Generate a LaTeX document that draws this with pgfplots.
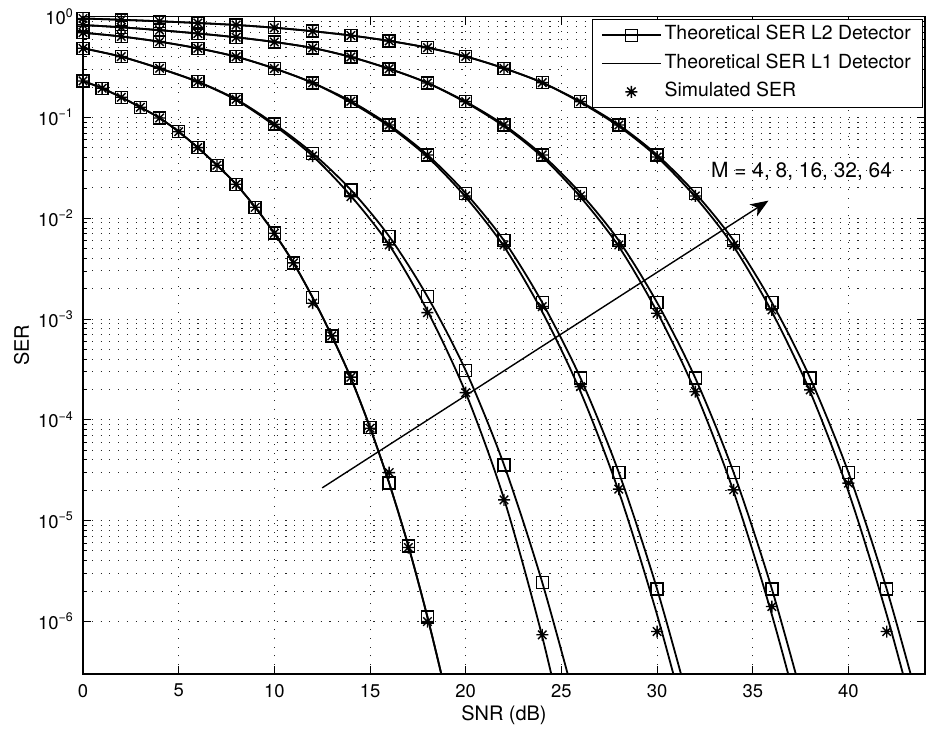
\documentclass[border=0pt]{standalone}
\usepackage{pgfplots}
\pgfplotsset{compat=1.18}
\usepackage{fontspec}
\setmainfont{TeX Gyre Heros}
\usetikzlibrary{arrows.meta}

\pgfdeclareplotmark{mstar}{%
  \pgfpathmoveto{\pgfqpoint{-\pgfplotmarksize}{0pt}}\pgfpathlineto{\pgfqpoint{\pgfplotmarksize}{0pt}}%
  \pgfpathmoveto{\pgfqpoint{0pt}{-\pgfplotmarksize}}\pgfpathlineto{\pgfqpoint{0pt}{\pgfplotmarksize}}%
  \pgfpathmoveto{\pgfqpoint{-.707\pgfplotmarksize}{-.707\pgfplotmarksize}}\pgfpathlineto{\pgfqpoint{.707\pgfplotmarksize}{.707\pgfplotmarksize}}%
  \pgfpathmoveto{\pgfqpoint{-.707\pgfplotmarksize}{.707\pgfplotmarksize}}\pgfpathlineto{\pgfqpoint{.707\pgfplotmarksize}{-.707\pgfplotmarksize}}%
  \pgfusepathqstroke}

\newcommand\tp[1]{10\raisebox{7.5bp}{\fontsize{12.5}{12.5}\selectfont #1}}

\pgfplotsset{
  l2line/.style={black, line width=1.8bp, smooth, no markers, forget plot},
  l2mark/.style={black, line width=1.5bp, only marks, mark=square, mark size=6bp, forget plot},
  l1line/.style={black, line width=1.8bp, smooth, no markers, forget plot},
  simmark/.style={black, line width=1.4bp, only marks, mark=mstar, mark size=6bp, forget plot},
}

\begin{document}
\begin{tikzpicture}
\begin{axis}[
  scale only axis, width=842bp, height=657.3bp,
  xmin=0, xmax=44, ymin=3e-7, ymax=1, ymode=log,
  clip mode=individual,
  axis line style={black, line width=1.2bp},
  xtick={0,5,...,40},
  xticklabels={0,5,10,15,20,25,30,35,40},
  ytick={1e-6,1e-5,1e-4,1e-3,1e-2,1e-1,1},
  yticklabels={\tp{−6},\tp{−5},\tp{−4},\tp{−3},\tp{−2},\tp{−1},\tp{0}},
  xticklabel style={font=\fontsize{18.5}{18.5}\selectfont, anchor=north, inner sep=0pt, yshift=-10bp},
  yticklabel style={font=\fontsize{18.5}{18.5}\selectfont, anchor=east, inner sep=0pt, xshift=-10bp},
  major tick length=8bp, minor tick length=4.5bp,
  tick style={black, line width=0.8bp},
  tick align=inside,
  xmajorgrids, ymajorgrids, yminorgrids,
  major grid style={black!85, line width=0.9bp, dash pattern=on 1.1bp off 7.7bp},
  minor grid style={black!85, line width=0.9bp, dash pattern=on 1.1bp off 7.7bp},
  legend style={at={(axis description cs:1,1)}, anchor=north east, xshift=-2bp, yshift=-2bp,
    draw=black, line width=1bp, fill=white, inner xsep=8.7bp, inner ysep=7.25bp, row sep=10.8bp,
    font=\fontsize{19.5}{19.5}\selectfont,
    nodes={inner xsep=3bp, inner ysep=0pt, text height=13.5bp, text depth=4bp}},
  legend cell align=left,
  legend image code/.code={\draw[mark repeat=2, mark phase=2, #1] plot coordinates {(0bp,0bp) (29.5bp,0bp) (59bp,0bp)};},
]
\addlegendimage{black, line width=1.5bp, mark=square, mark size=6bp, mark options={line width=1.3bp}}
\addlegendentry{Theoretical SER L2 Detector}
\addlegendimage{black, line width=1.5bp}
\addlegendentry{Theoretical SER L1 Detector}
\addlegendimage{black, only marks, mark=mstar, mark size=6bp, line width=1.4bp}
\addlegendentry{Simulated SER}

% ---------- M = 4 ----------
\addplot[l2line] coordinates {(0,0.2302)(1,0.1949)(2,0.1586)(3,0.1263)(4,0.09886)(5,0.07227)(6,0.05017)(7,0.03355)(8,0.02174)(9,0.01285)(10,0.007098)(11,0.003601)(12,0.001631)(13,6.796e-4)(14,2.586e-4)(15,8.367e-5)(16,2.350e-5)(17,5.610e-6)(18,1.100e-6)(19,1.782e-7)(20,2.388e-8)};
\addplot[l2mark] coordinates {(0,0.2302)(1,0.1949)(2,0.1586)(3,0.1263)(4,0.09886)(5,0.07227)(6,0.05017)(7,0.03355)(8,0.02174)(9,0.01285)(10,0.007098)(11,0.003601)(12,0.001631)(13,6.796e-4)(14,2.586e-4)(15,8.367e-5)(16,2.350e-5)(17,5.610e-6)(18,1.100e-6)};
\addplot[l1line] coordinates {(0,0.2302)(1,0.1949)(2,0.1586)(3,0.1263)(4,0.09886)(5,0.07227)(6,0.05017)(7,0.03355)(8,0.02174)(9,0.01285)(10,0.007098)(11,0.003601)(12,0.001631)(13,6.796e-4)(14,2.586e-4)(15,8.367e-5)(16,2.350e-5)(17,5.610e-6)(18,1.100e-6)(19,1.782e-7)(20,2.388e-8)};
\addplot[simmark] coordinates {(0,0.2302)(1,0.1949)(2,0.1586)(3,0.1263)(4,0.09886)(5,0.07227)(6,0.05017)(7,0.03355)(8,0.02174)(9,0.01285)(10,0.007098)(11,0.003601)(12,0.001434)(13,6.796e-4)(14,2.646e-4)(15,8.235e-5)(16,2.994e-5)(17,5.4e-6)(18,9.95e-7)};

% ---------- M = 8 ----------
\addplot[l2line] coordinates {(0,0.4858)(2,0.4011)(4,0.3077)(6,0.2265)(8,0.1515)(10,0.08619)(12,0.04413)(14,0.01909)(16,0.006598)(18,0.001668)(20,3.077e-4)(22,3.569e-5)(24,2.426e-6)(26,1.007e-7)};
\addplot[l2mark] coordinates {(0,0.4858)(2,0.4011)(4,0.3077)(6,0.2265)(8,0.1515)(10,0.08619)(12,0.04413)(14,0.01909)(16,0.006598)(18,0.001668)(20,3.077e-4)(22,3.569e-5)(24,2.426e-6)};
\addplot[l1line] coordinates {(0,0.4858)(2,0.4011)(4,0.3063)(6,0.2250)(8,0.1491)(10,0.08329)(12,0.04150)(14,0.01664)(16,0.005434)(18,0.001203)(20,1.849e-4)(22,1.642e-5)(24,7.019e-7)(26,1.620e-8)};
\addplot[simmark] coordinates {(0,0.4858)(2,0.4011)(4,0.3077)(6,0.2265)(8,0.1515)(10,0.0855)(12,0.04141)(14,0.01638)(16,0.005434)(18,0.001157)(20,1.862e-4)(22,1.605e-5)(24,7.35e-7)};

% ---------- M = 16 ----------
\addplot[l2line] coordinates {(0,0.6938)(2,0.6362)(4,0.5649)(6,0.4858)(8,0.4011)(10,0.3063)(12,0.2205)(14,0.1448)(16,0.08425)(18,0.04246)(20,0.01770)(22,0.005995)(24,0.001454)(26,2.586e-4)(28,2.994e-5)(30,2.086e-6)(32,8.98e-8)};
\addplot[l2mark] coordinates {(0,0.6938)(2,0.6362)(4,0.5649)(6,0.4858)(8,0.4011)(10,0.3063)(12,0.2205)(14,0.1448)(16,0.08425)(18,0.04246)(20,0.01770)(22,0.005995)(24,0.001454)(26,2.586e-4)(28,2.994e-5)(30,2.086e-6)};
\addplot[l1line] coordinates {(0,0.6938)(2,0.6362)(4,0.5649)(6,0.4858)(8,0.4011)(10,0.3063)(12,0.2205)(14,0.1408)(16,0.08158)(18,0.04056)(20,0.01620)(22,0.005239)(24,0.001176)(26,1.896e-4)(28,1.935e-5)(30,1.160e-6)(32,4.526e-8)};
\addplot[simmark] coordinates {(0,0.6938)(2,0.6362)(4,0.5649)(6,0.4858)(8,0.4011)(10,0.3063)(12,0.2205)(14,0.1448)(16,0.08425)(18,0.04246)(20,0.01664)(22,0.005434)(24,0.001327)(26,2.135e-4)(28,2.049e-5)(30,7.92e-7)};

% ---------- M = 32 ----------
\addplot[l2line] coordinates {(0,0.8272)(2,0.7850)(4,0.7346)(6,0.6814)(8,0.6247)(10,0.5610)(12,0.4892)(14,0.3983)(16,0.3042)(18,0.2200)(20,0.1434)(22,0.08425)(24,0.04246)(26,0.01770)(28,0.005995)(30,0.001454)(32,2.586e-4)(34,2.994e-5)(36,2.086e-6)(38,8.98e-8)};
\addplot[l2mark] coordinates {(0,0.8272)(2,0.7850)(4,0.7346)(6,0.6814)(8,0.6247)(10,0.5610)(12,0.4892)(14,0.3983)(16,0.3042)(18,0.2200)(20,0.1434)(22,0.08425)(24,0.04246)(26,0.01770)(28,0.005995)(30,0.001454)(32,2.586e-4)(34,2.994e-5)(36,2.086e-6)};
\addplot[l1line] coordinates {(0,0.8272)(2,0.7850)(4,0.7346)(6,0.6814)(8,0.6247)(10,0.5610)(12,0.4892)(14,0.3983)(16,0.3042)(18,0.2200)(20,0.1408)(22,0.08158)(24,0.04056)(26,0.01620)(28,0.005239)(30,0.001176)(32,1.896e-4)(34,1.935e-5)(36,1.160e-6)(38,4.526e-8)};
\addplot[simmark] coordinates {(0,0.8272)(2,0.7850)(4,0.7346)(6,0.6814)(8,0.6247)(10,0.5610)(12,0.4892)(14,0.3983)(16,0.3042)(18,0.2200)(20,0.1434)(22,0.08425)(24,0.04246)(26,0.01664)(28,0.005434)(30,0.001141)(32,1.905e-4)(34,2.016e-5)(36,1.402e-6)};

% ---------- M = 64 ----------
\addplot[l2line] coordinates {(0,0.9597)(2,0.9316)(4,0.9002)(6,0.8660)(8,0.8272)(10,0.7777)(12,0.7181)(14,0.6509)(16,0.5753)(18,0.4926)(20,0.4029)(22,0.3077)(24,0.2215)(26,0.1434)(28,0.08425)(30,0.04246)(32,0.01770)(34,0.005995)(36,0.001454)(38,2.586e-4)(40,2.994e-5)(42,2.086e-6)(44,8.98e-8)};
\addplot[l2mark] coordinates {(0,0.9597)(2,0.9316)(4,0.9002)(6,0.8660)(8,0.8272)(10,0.7777)(12,0.7181)(14,0.6509)(16,0.5753)(18,0.4926)(20,0.4029)(22,0.3077)(24,0.2215)(26,0.1434)(28,0.08425)(30,0.04246)(32,0.01770)(34,0.005995)(36,0.001454)(38,2.586e-4)(40,2.994e-5)(42,2.086e-6)};
\addplot[l1line] coordinates {(0,0.9597)(2,0.9316)(4,0.9002)(6,0.8660)(8,0.8272)(10,0.7777)(12,0.7181)(14,0.6509)(16,0.5753)(18,0.4926)(20,0.4029)(22,0.3077)(24,0.2215)(26,0.1408)(28,0.08158)(30,0.04056)(32,0.01620)(34,0.005239)(36,0.001176)(38,1.896e-4)(40,1.935e-5)(42,1.160e-6)(44,4.526e-8)};
\addplot[simmark] coordinates {(0,0.9597)(2,0.9316)(4,0.9002)(6,0.8660)(8,0.8272)(10,0.7777)(12,0.7181)(14,0.6509)(16,0.5753)(18,0.4926)(20,0.4029)(22,0.3077)(24,0.2215)(26,0.1434)(28,0.08425)(30,0.04056)(32,0.01664)(34,0.005434)(36,0.001231)(38,1.979e-4)(40,2.350e-5)(42,7.92e-7)};

\draw[black, line width=1.4bp, -{Stealth[length=18bp, width=14bp, inset=5bp]}] (axis cs:12.5,2.11e-5) -- (axis cs:35.82,0.01496);
\node[font=\fontsize{21}{21}\selectfont] at (axis cs:37.55,0.02945) {M = 4, 8, 16, 32, 64};

\coordinate (SW) at (rel axis cs:0,0);
\coordinate (NE) at (rel axis cs:1,1);
\coordinate (XL) at (rel axis cs:0.5,0);
\coordinate (YL) at (rel axis cs:0,0.5);
\end{axis}
\node[font=\fontsize{20}{24}\selectfont, anchor=center, inner sep=0pt] at ([yshift=-41bp]XL) {SNR (dB)};
\node[font=\fontsize{20}{24}\selectfont, anchor=center, inner sep=0pt, rotate=90] at ([xshift=-61.5bp]YL) {SER};
\pgfresetboundingbox
\path[use as bounding box] ([shift={(-83bp,-56.3bp)}]SW) rectangle ([shift={(3bp,16.7bp)}]NE);
\end{tikzpicture}
\end{document}
